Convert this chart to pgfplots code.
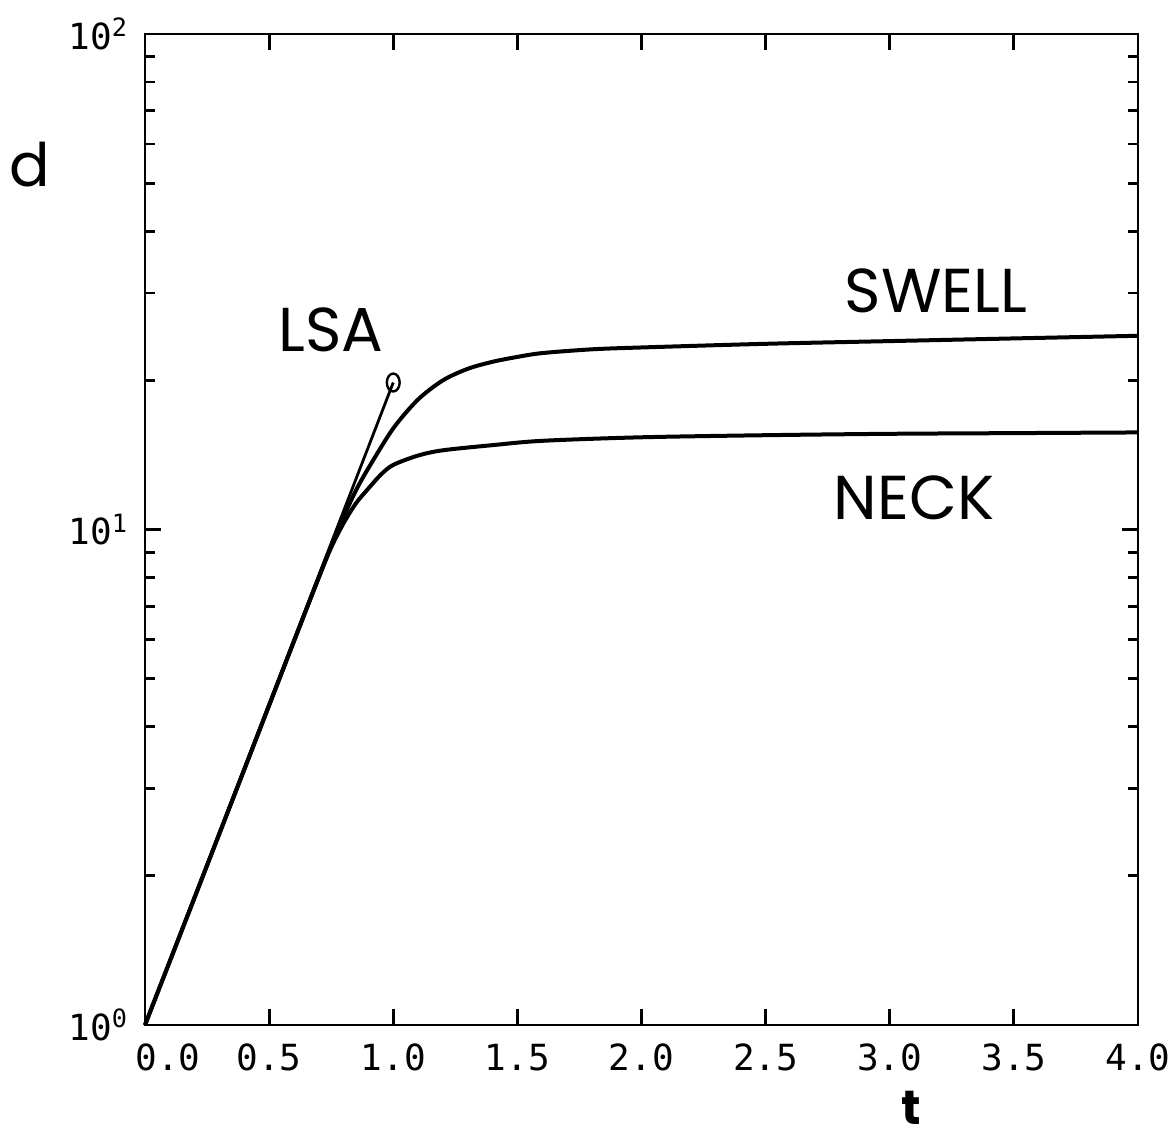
\documentclass[border=0pt]{standalone}
\usepackage{fontspec}
\setmainfont{Poppins}
\newfontfamily\plotfont{DejaVu Sans Mono}
\usepackage{pgfplots}
\pgfplotsset{compat=1.18}
\begin{document}
\begin{tikzpicture}
\useasboundingbox (-72.5pt,-60pt) rectangle (515.5pt,512.5pt);
\begin{axis}[
  at={(0pt,0pt)}, anchor=south west,
  scale only axis, width=496.5pt, height=495.5pt,
  ymode=log, xmin=0, xmax=4, ymin=1, ymax=100,
  axis line style={line width=1.4pt},
  tick align=inside,
  every tick/.style={black, line width=1.4pt},
  major tick length=8pt, minor tick length=5pt,
  xtick={0,0.5,1,1.5,2,2.5,3,3.5,4},
  xticklabels={{\hspace*{23pt}0.0},0.5,1.0,1.5,2.0,2.5,3.0,3.5,4.0},
  ytick={1,10,100},
  yticklabels={10\textsuperscript{0},10\textsuperscript{1},10\textsuperscript{2}},
  ticklabel style={font=\plotfont\fontsize{18}{20}\selectfont},
  xticklabel style={yshift=-6pt},
  yticklabel style={xshift=-5pt},
  clip=false,
]
% LSA
\addplot[black, line width=1.4pt, mark=o, mark indices={2},
  mark options={line width=1.2pt, yscale=1.4}, mark size=3.2pt]
  coordinates {(0,1) (1.0,19.8)};
% SWELL
\addplot[black, line width=2pt, smooth] coordinates {
 (0,1) (0.2,1.81) (0.4,3.28) (0.6,5.95) (0.7,8.0) (0.75,9.25) (0.8,10.6)
 (0.85,12.0) (0.9,13.3) (1.0,16.0) (1.1,18.3) (1.2,20.0) (1.3,21.1)
 (1.4,21.8) (1.5,22.3) (1.6,22.7) (1.8,23.1) (2.0,23.3) (2.5,23.7)
 (3.0,24.0) (3.5,24.3) (4.0,24.6)};
% NECK
\addplot[black, line width=2pt, smooth] coordinates {
 (0,1) (0.2,1.81) (0.4,3.28) (0.6,5.95) (0.7,8.0) (0.75,9.2) (0.8,10.3)
 (0.85,11.3) (0.9,12.1) (0.95,12.9) (1.0,13.5) (1.1,14.1) (1.2,14.45)
 (1.4,14.8) (1.6,15.1) (2.0,15.35) (2.5,15.5) (3.0,15.6) (3.5,15.65) (4.0,15.7)};
\node[font=\fontsize{31}{33}\selectfont] at (axis cs:0.749,25.3) {LSA};
\node[font=\fontsize{31}{33}\selectfont] at (axis cs:3.186,30.3) {SWELL};
\node[font=\fontsize{31}{33}\selectfont] at (axis cs:3.098,11.58) {NECK};
\node[font=\fontsize{30}{32}\selectfont] at (rel axis cs:-0.1158,0.868) {d};
\node[font=\fontsize{24}{26}\selectfont\bfseries, inner sep=0pt, anchor=base] at (rel axis cs:0.772,-0.100) {t};
\end{axis}
\end{tikzpicture}
\end{document}
